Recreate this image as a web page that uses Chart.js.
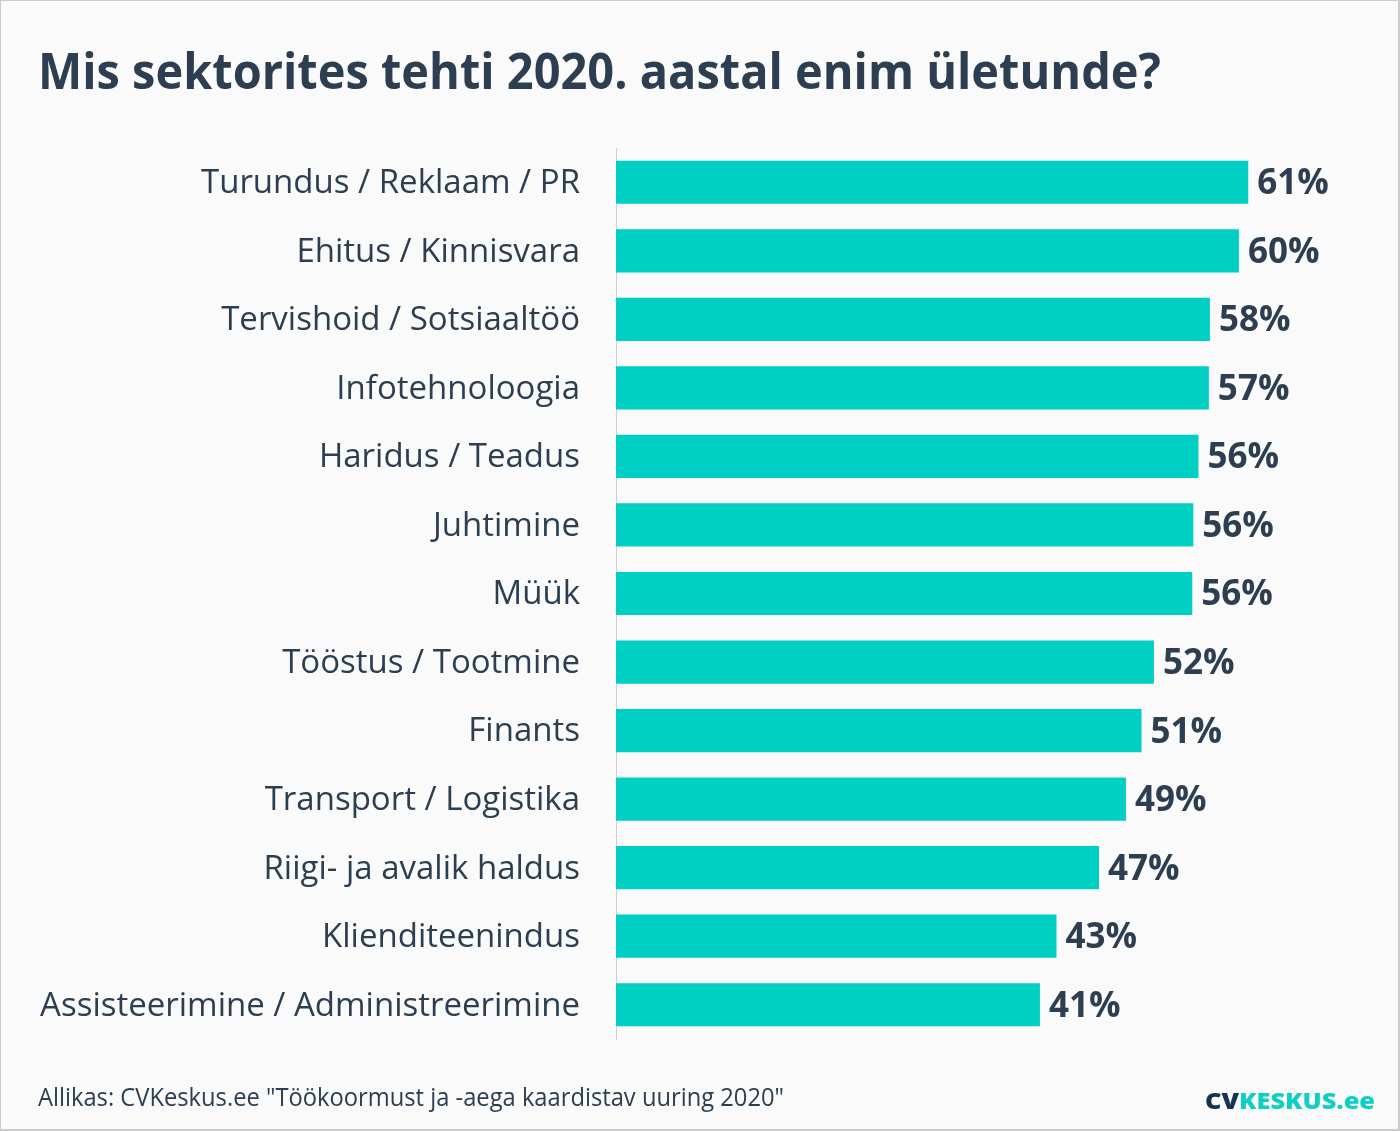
<!DOCTYPE html>
<html>
<head>
<meta charset="utf-8">
<script src="https://cdn.jsdelivr.net/npm/chart.js@4"></script>
<style>
  html, body { margin: 0; padding: 0; background: #fafafa; }
  #frame { position: absolute; left: 0; top: 0; width: 1400px; height: 1131px; box-sizing: border-box;
           border-top: 1px solid #cccccc; border-left: 1px solid #cccccc; border-right: 2px solid #cccccc; border-bottom: 2px solid #cccccc;
           background: #fafafa; overflow: hidden; }
  #chartWrap { position: absolute; left: 0; top: 0; width: 1400px; height: 1131px; }
  .txt { position: absolute; white-space: nowrap; line-height: 1; transform-origin: 0 0; display: inline-block; }
  #title { left: 37px; top: 33px; font: 700 51px "Open Sans", sans-serif; color: #2c3e50; }
  #source { left: 37px; top: 1078px; font: 400 25px "Open Sans", sans-serif; color: #2c3e50; }
  #logo { left: 1204px; top: 1083px; font: 800 23px "Open Sans", sans-serif; color: #0fcfc2; }
  #logo .cv { color: #17324f; }
</style>
</head>
<body>
<div id="frame">
  <div id="chartWrap"><canvas id="c" width="1400" height="1131"></canvas></div>
  <div id="title" class="txt" data-w="1123">Mis sektorites tehti 2020. aastal enim ületunde?</div>
  <div id="source" class="txt" data-w="746">Allikas: CVKeskus.ee "Töökoormust ja -aega kaardistav uuring 2020"</div>
  <div id="logo" class="txt" data-w="170"><span class="cv">CV</span>KESKUS.ee</div>
</div>
<script>
const categories = [
  "Turundus / Reklaam / PR",
  "Ehitus / Kinnisvara",
  "Tervishoid / Sotsiaaltöö",
  "Infotehnoloogia",
  "Haridus / Teadus",
  "Juhtimine",
  "Müük",
  "Tööstus / Tootmine",
  "Finants",
  "Transport / Logistika",
  "Riigi- ja avalik haldus",
  "Klienditeenindus",
  "Assisteerimine / Administreerimine"
];
// bar lengths (percent)
const values = [61.0, 60.1, 57.3, 57.2, 56.2, 55.7, 55.6, 51.9, 50.7, 49.2, 46.6, 42.5, 40.9];
// printed value labels
const valueLabels = ["61%", "60%", "58%", "57%", "56%", "56%", "56%", "52%", "51%", "49%", "47%", "43%", "41%"];

function fitTexts() {
  document.querySelectorAll('.txt').forEach(el => {
    const target = parseFloat(el.dataset.w);
    el.style.transform = 'none';
    const w = el.getBoundingClientRect().width;
    el.style.transform = 'scaleX(' + (target / w) + ')';
  });
}

const valueLabelPlugin = {
  id: 'valueLabels',
  afterDatasetsDraw(chart) {
    const ctx = chart.ctx;
    const meta = chart.getDatasetMeta(0);
    ctx.save();
    ctx.font = '700 35px "Open Sans", sans-serif';
    ctx.fillStyle = '#2c3e50';
    ctx.textAlign = 'left';
    ctx.textBaseline = 'middle';
    meta.data.forEach((bar, i) => {
      ctx.fillText(valueLabels[i], bar.x + 9, bar.y + 2);
    });
    ctx.restore();
  }
};

function build() {
  fitTexts();
  new Chart(document.getElementById('c'), {
    type: 'bar',
    data: {
      labels: categories,
      datasets: [{
        data: values,
        backgroundColor: '#00cfc3',
        borderWidth: 0,
        barPercentage: 0.63,
        categoryPercentage: 1.0
      }]
    },
    options: {
      indexAxis: 'y',
      responsive: false,
      animation: false,
      events: [],
      layout: { padding: { left: 0, right: 18, top: 147, bottom: 93 } },
      plugins: { legend: { display: false }, tooltip: { enabled: false }, title: { display: false } },
      scales: {
        x: { display: false, min: 0, max: 74 },
        y: {
          afterFit(scale) { scale.width = 615; },
          grid: { display: false, drawTicks: false },
          border: { display: true, color: '#cfcfcf', width: 1 },
          ticks: {
            padding: 36,
            labelOffset: 1.5,
            color: '#2c3e50',
            font: { family: '"Open Sans", sans-serif', size: 33, weight: '400' }
          }
        }
      }
    },
    plugins: [valueLabelPlugin]
  });
}

Promise.all([
  document.fonts.load('400 33px "Open Sans"'),
  document.fonts.load('700 35px "Open Sans"'),
  document.fonts.load('800 23px "Open Sans"')
]).then(build, build);
</script>
</body>
</html>
